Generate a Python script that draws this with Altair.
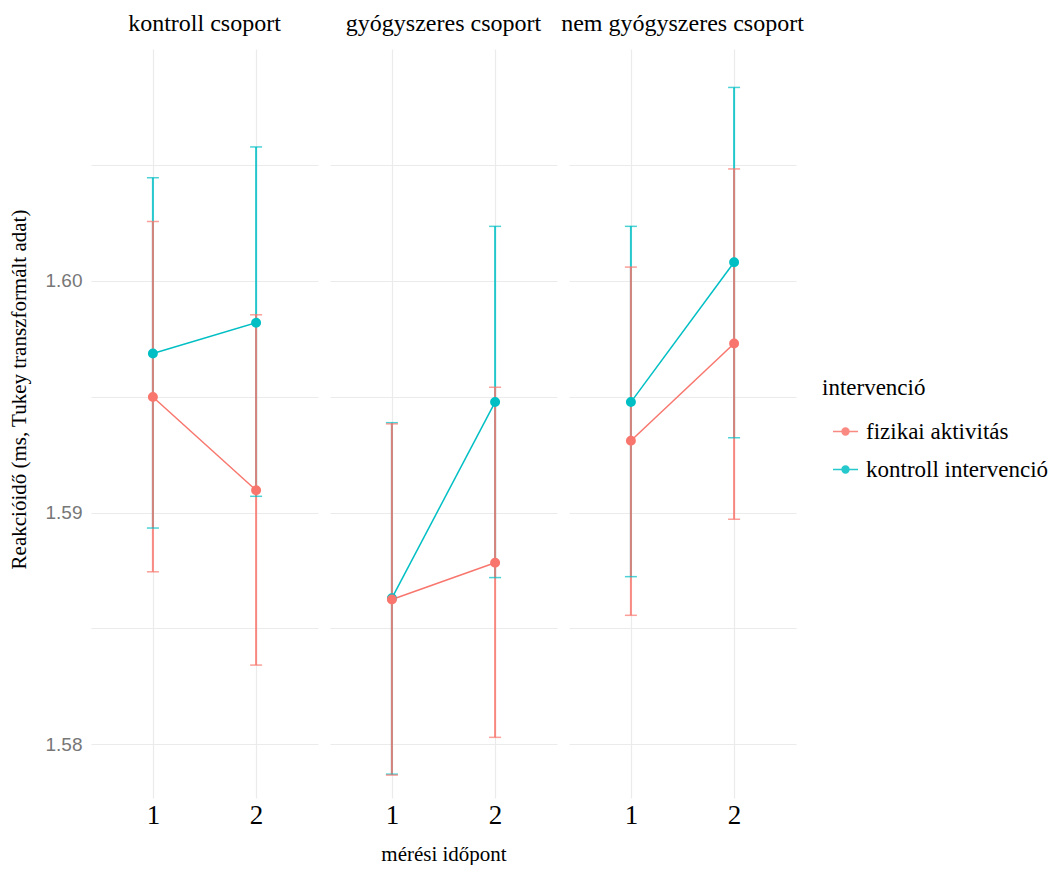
import altair as alt
import pandas as pd

groups = ["kontroll csoport", "gyógyszeres csoport", "nem gyógyszeres csoport"]
interventions = ["fizikai aktivitás", "kontroll intervenció"]
times = ["1", "2"]

# values per group, time 1 then time 2
fiz_mean = [[1.59499, 1.59096], [1.58624, 1.58783], [1.59310, 1.59730]]
fiz_lower = [[1.58744, 1.58341], [1.57866, 1.58029], [1.58556, 1.58971]]
fiz_upper = [[1.60257, 1.59854], [1.59383, 1.59541], [1.60060, 1.60484]]

ko_mean = [[1.59687, 1.59820], [1.58630, 1.59477], [1.59477, 1.60081]]
ko_lower = [[1.58933, 1.59070], [1.57870, 1.58719], [1.58723, 1.59323]]
ko_upper = [[1.60446, 1.60579], [1.59388, 1.60236], [1.60236, 1.60836]]

y_ticks = [1.58, 1.585, 1.59, 1.595, 1.60, 1.605]
colors = ["#F8766D", "#00BFC4"]

rows = []
for name, m, lo, up in [
    (interventions[1], ko_mean, ko_lower, ko_upper),
    (interventions[0], fiz_mean, fiz_lower, fiz_upper),
]:
    for gi, g in enumerate(groups):
        for ti, t in enumerate(times):
            rows.append(
                {
                    "csoport": g,
                    "ido": t,
                    "intervencio": name,
                    "mean": m[gi][ti],
                    "lower": lo[gi][ti],
                    "upper": up[gi][ti],
                }
            )
df = pd.DataFrame(rows)

ytitle = "Reakcióidő (ms, Tukey transzformált adat)"
yscale = alt.Scale(domain=[1.57767, 1.61002], nice=False, zero=False)
yaxis = alt.Axis(
    values=y_ticks,
    labelExpr="round(datum.value*1000) % 10 === 0 ? format(datum.value, '.2f') : ''",
    titleY=340,
)

x_enc = alt.X(
    "ido:O",
    scale=alt.Scale(type="point", padding=0.6),
    axis=alt.Axis(labelAngle=0),
    title=None,
)
cscale = alt.Scale(domain=interventions, range=colors)
leg = alt.Legend(
    title="intervenció",
    orient="none",
    legendX=731,
    legendY=328,
    symbolType="M-1,0H1M0.28,0A0.28,0.28 0 1,1 -0.28,0A0.28,0.28 0 1,1 0.28,0Z",
    symbolSize=625,
    symbolStrokeWidth=1.4,
    symbolOffset=10,
    rowPadding=12,
    labelOffset=7,
    labelLimit=300,
)
color_enc = alt.Color("intervencio:N", scale=cscale, legend=leg)

base = alt.Chart().encode(x=x_enc, color=color_enc)

rules = base.mark_rule(strokeWidth=2, opacity=0.85).encode(
    y=alt.Y("lower:Q", scale=yscale, axis=yaxis, title=ytitle),
    y2="upper:Q",
)
cap_lo = base.mark_tick(size=12, thickness=1.5).encode(
    y=alt.Y("lower:Q", scale=yscale, axis=yaxis, title=ytitle)
)
cap_hi = base.mark_tick(size=12, thickness=1.5).encode(
    y=alt.Y("upper:Q", scale=yscale, axis=yaxis, title=ytitle)
)
lines = base.mark_line(strokeWidth=1.5).encode(
    y=alt.Y("mean:Q", scale=yscale, axis=yaxis, title=ytitle),
    detail="intervencio:N",
)
points = base.mark_circle(size=64, opacity=1).encode(
    y=alt.Y("mean:Q", scale=yscale, axis=yaxis, title=ytitle),
    stroke=alt.Stroke("intervencio:N", scale=cscale, legend=leg),
)

layered = alt.layer(rules, cap_lo, cap_hi, lines, points, data=df).properties(
    width=227, height=749
)

chart = (
    layered.facet(
        column=alt.Column(
            "csoport:N",
            sort=groups,
            title="mérési időpont",
            header=alt.Header(
                labelOrient="top",
                titleOrient="bottom",
                labelFont="Liberation Serif",
                labelFontSize=24,
                labelColor="#000000",
                labelPadding=13,
                titleFont="Liberation Serif",
                titleFontSize=21,
                titleFontWeight="normal",
                titleColor="#000000",
                titlePadding=6,
            ),
        ),
        spacing=12,
    )
    .properties(padding={"left": 0, "top": 4, "right": 0, "bottom": 0})
    .configure_view(strokeWidth=0)
    .configure_axis(
        domain=False,
        ticks=False,
        grid=True,
        gridColor="#ebebeb",
        gridWidth=1.2,
    )
    .configure_axisX(
        labelFont="Liberation Serif",
        labelFontSize=27,
        labelColor="#000000",
        labelPadding=4,
    )
    .configure_axisY(
        labelFont="Liberation Sans",
        labelFontSize=19,
        labelColor="#777777",
        labelPadding=9,
        titleFont="Liberation Serif",
        titleFontSize=21,
        titleFontWeight="normal",
        titleColor="#000000",
        titlePadding=16,
    )
    .configure_legend(
        titleFont="Liberation Serif",
        titleFontSize=23,
        titleFontWeight="normal",
        titleColor="#000000",
        labelFont="Liberation Serif",
        labelFontSize=23,
        labelColor="#000000",
        titlePadding=18,
    )
)

chart.save("out.html", embed_options={"renderer": "svg", "actions": False})
